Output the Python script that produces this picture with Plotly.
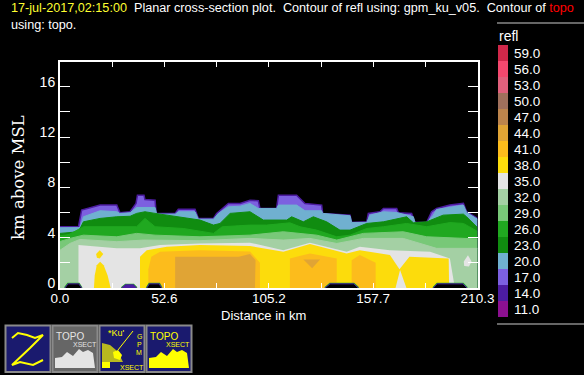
import plotly.graph_objects as go

W, H = 584, 375
levels = ["59.0","56.0","53.0","50.0","47.0","44.0","41.0","38.0","35.0","32.0","29.0","26.0","23.0","20.0","17.0","14.0","11.0"]
colors = ["#d0284a","#f4486e","#e0607c","#a0705c","#bc844c","#e0a435","#fcbc1c","#fcdc0c","#e4e4e4","#a4d0a4","#78c878","#20a820","#108c10","#70b0d0","#7c60e0","#4c1ca0","#8c1090"]
col = dict(zip(levels, colors))

x_ticks = [0, 26.3, 52.6, 78.9, 105.2, 131.5, 157.7, 184.0, 210.3]
x_labels = ["0.0", "", "52.6", "", "105.2", "", "157.7", "", "210.3"]
y_ticks = [0, 2, 4, 6, 8, 10, 12, 14, 16]
y_labels = ["0", "", "4", "", "8", "", "12", "", "16"]

x17 = [0,9.3,10.9,20.2,28.6,30.2,35.3,38.3,39,42.3,42.8,47.9,48.4,58,59.6,68,69.7,77.3,78.9,84.8,90.7,95.7,99.9,100.7,109.1,110,119.2,123.4,131.8,132.3,146.1,146.9,154.5,155.3,161.2,162.9,169.6,170.4,177.1,178.8,184.7,187.2,189.7,196.4,203.2,204.8,210.3]
h17 = [4.87,4.87,6.19,6.59,6.59,5.98,6.06,6.72,7.38,7.38,7.03,6.98,5.93,5.93,6.25,6.25,5.53,5.53,5.93,6.72,6.72,6.98,6.93,6.32,6.32,7.38,7.38,6.72,6.59,5.93,5.79,5.21,5.26,5.93,6.06,6.32,6.32,5.98,5.93,5.21,5.21,6.06,6.32,6.59,6.72,6.06,5.53]
x20 = [0,10.1,11.8,20.2,28.6,30.2,35.3,38.6,47.9,48.7,58,59.6,68,69.7,77.3,79.8,84.8,90.7,95.7,99.9,109.1,110,119.2,123.4,131.8,132.3,146.1,146.9,154.5,156.1,162.9,169.6,178,178.8,184.7,188,189.7,203.2,204.8,210.3]
h20 = [4.79,4.8,5.66,6.14,6.06,5.93,5.98,6.4,6.4,5.87,5.87,6.06,6.06,5.47,5.47,5.93,6.45,6.5,6.72,6.32,6.32,6.59,6.59,6.14,6.14,5.93,5.74,5.21,5.21,5.79,6.06,6.0,5.66,5.21,5.21,5.79,6.24,6.59,6.0,5.47]
x23 = [0,9.3,11.8,20.2,28.6,35.3,38.6,42.8,47.9,53.8,62.1,70.5,77.3,80.6,85.7,95.7,102.4,114.2,116.7,122.6,127.6,134.3,141,146.1,154.5,162.9,174.6,178,184.7,193,203.2,204.8,210.3]
h23 = [4.34,4.47,5.26,5.53,5.66,5.7,5.93,6.06,5.93,5.79,5.58,5.4,5.0,5.13,5.93,6.06,5.4,5.4,5.66,5.26,5.66,5.26,4.6,4.6,5.13,5.26,5.66,5.18,5.26,5.79,5.87,5.66,4.8]
x26 = [0,4.5,11.8,28.6,38.6,42.8,47.9,62.1,77.3,81.7,95.7,104.1,115.8,120.9,129.3,139.4,146.1,154.5,162.9,174.6,184.7,196.4,203.2,210.3]
h26 = [4.15,4.25,4.87,4.87,4.87,5.53,4.87,4.73,4.34,4.87,5.0,5.0,5.18,4.87,4.6,4.07,4.2,4.73,4.87,5.13,4.87,5.2,5.13,4.5]
x29 = [0,5,11.8,28.6,38.6,47.9,70.5,95.7,112.5,129.3,139.4,152.8,172.9,184.7,210.3]
h29 = [3.7,3.94,4.2,4.07,4.34,4.2,4.07,4.2,4.47,4.2,3.81,4.34,4.47,4.07,3.9]
x32 = [0,5,10,28.6,42,70.5,95.7,112.5,125.9,139.4,152.8,172.9,189.7,210.3]
h32 = [3.0,3.54,3.86,3.68,3.81,3.76,3.94,3.81,3.94,3.54,3.94,3.94,3.15,3.15]

x35 = [9.3,9.3,28.6,40.3,50.4,70.5,95.7,112.5,125.9,144.4,151,166.2,186.4,196.4,198.9]
h35 = [0,3.41,3.15,3.15,3.41,3.54,3.6,3.0,3.6,2.88,3.28,3.0,2.88,2.35,0]
x35b = [203.4,205.5,207.3,206,203.6]
h35b = [2.1,2.6,2.1,1.7,1.75]
x38 = [40.3,40.3,43.7,53.8,70.5,95.7,112.5,125.9,144.4,151,166.2,171,176,195.8,196,174.5,171.3,169]
h38 = [0,2.49,3.0,3.28,3.41,3.33,2.88,3.49,2.75,3.0,2.62,1.5,2.49,2.35,0,0,1.43,0]
x38a = [18.2,20,21.8,20,18.6]
h38a = [2.7,3.0,2.7,2.35,2.4]
x38b = [17.1,17.5,18.5,20.2,22,24,25.5]
h38b = [0,1.0,1.8,2.09,1.8,1.0,0]
x41a = [44.5,44.5,46,50.4,70.5,95.7,100.7,100.7]
h41a = [0,1.5,2.49,2.88,3.0,2.9,2.0,0]
x41b = [115.8,115.8,125.9,139.4,139.4]
h41b = [0,2.35,2.75,2.35,0]
x41c = [146.9,146.9,151,159,159]
h41c = [0,2.2,2.62,2.0,0]
x44a = [58,58,90,95.7,98.5,98.2]
h44a = [0,2.49,2.49,2.7,2.2,0]
x44b = [122.6,131,127]
h44b = [2.27,2.27,1.56]

holes_x = [[2.5,4,9.5,10.9],[31,33,37,38.6],[43.7,45,50,51.2],[133.5,136,148,150.3],[188,190,203,205]]
holes_h = [[0,.33,.33,0],[0,.25,.25,0],[0,.33,.33,0],[0,.33,.33,0],[0,.33,.33,0]]
hole_fill = ["#000000","#4c1ca0","#000000","#000000","#000000"]

fig = go.Figure()
def top(x, h, c, line=None, lw=0):
    fig.add_trace(go.Scatter(x=x, y=h, mode="lines", fill="tozeroy", fillcolor=c,
                             line=dict(color=line or c, width=lw or 1), hoverinfo="skip", showlegend=False))
def poly(x, h, c, line=None, lw=0):
    fig.add_trace(go.Scatter(x=x, y=h, mode="lines", fill="toself", fillcolor=c,
                             line=dict(color=line or c, width=lw), hoverinfo="skip", showlegend=False))

top(x17, h17, col["17.0"], col["14.0"], 1.5)
top(x20, h20, col["20.0"])
top(x23, h23, col["23.0"])
top(x26, h26, col["26.0"])
top(x29, h29, col["29.0"])
top(x32, h32, col["32.0"])
poly(x35, h35, col["35.0"])
poly(x35b, h35b, col["35.0"])
poly(x38, h38, col["38.0"])
poly(x38a, h38a, col["38.0"])
poly(x38b, h38b, col["38.0"])
for a, b in [(x41a, h41a), (x41b, h41b), (x41c, h41c)]:
    poly(a, b, col["41.0"])
poly(x44a, h44a, col["44.0"])
poly(x44b, h44b, col["44.0"])
for a, b, f in zip(holes_x, holes_h, hole_fill):
    poly(a, b, "rgba(0,0,0,0)", col["26.0"], 2.2)
    poly(a, b, f, col["14.0"], 1)

fig.add_trace(go.Bar(x=[1]*len(levels), y=levels, orientation="h", marker=dict(color=colors, line=dict(width=0)),
                     xaxis="x2", yaxis="y2", hoverinfo="skip", showlegend=False))

FONT = "Liberation Sans"
def px(x): return x / W
def py(y): return 1 - y / H

shapes, ann = [], []
def text(x, y, s, size=13, color="white", anchor="left", family=FONT, angle=0, **kw):
    ann.append(dict(x=px(x), y=py(y), xref="paper", yref="paper", text=s, showarrow=False, xanchor=anchor,
                    yanchor="middle", textangle=angle, font=dict(family=family, size=size, color=color),
                    borderpad=0, **kw))
def path(pts, fill="rgba(0,0,0,0)", line="rgba(0,0,0,0)", lw=0, close=True):
    d = "M" + " L".join(f"{px(a):.5f},{py(b):.5f}" for a, b in pts) + (" Z" if close else "")
    shapes.append(dict(type="path", xref="paper", yref="paper", path=d, fillcolor=fill, line=dict(color=line, width=lw)))
def rect(x0, y0, x1, y1, fill, line="rgba(0,0,0,0)", lw=0):
    shapes.append(dict(type="rect", xref="paper", yref="paper", x0=px(x0), x1=px(x1), y0=py(y0), y1=py(y1),
                       fillcolor=fill, line=dict(color=line, width=lw)))

sp = "\u00a0"
text(10, 8.5, f"<span style='color:#ffff30'>17-jul-2017,02:15:00</span>{sp}{sp}Planar cross-section plot.{sp}{sp}Contour of refl using: gpm_ku_v05.{sp}{sp}Contour of <span style='color:#ff0000'>topo</span>", size=12.65)
text(10, 24.5, "using: topo.", size=12.65)
text(18, 178, "km above MSL", size=16.5, family="DejaVu Serif", angle=-90, anchor="center")
text(263, 315, "Distance in km", size=13, anchor="center")
text(498, 36, "refl", size=14)

rect(497, 23, 584, 23.01, "#888888", "#888888", 1)
rect(497, 324, 584, 324.01, "#888888", "#888888", 1)

navy = "#1a1a6e"
yel = "#ffff00"
for x0, f in [(5, navy), (52, "#666666"), (99, navy), (146, navy)]:
    rect(x0 + .5, 325.5, x0 + 45.5, 372, f, "#8a8a8a", 2)
path([(12,338),(18,333),(27,335),(35,338),(43,335),(30,348),(12,365),(20,362),(33,365),(43,360)], line=yel, lw=2, close=False)
def mountain(dx, c):
    path([(dx,368),(dx,358),(dx+7,357),(dx+12,352),(dx+18,356),(dx+24,349),(dx+28,352),(dx+33,350),(dx+38,353),(dx+40,368)], fill=c)
mountain(55, "#e4e4e4")
mountain(149, yel)
for x0, c in [(52, "#e4e4e4"), (146, yel)]:
    text(x0 + 18, 336, "TOPO", size=10, color=c, anchor="center")
    text(x0 + 32.5, 344, "XSECT", size=7, color=c, anchor="center")
text(107, 333, "*Ku'", size=9, color=yel)
for i, ch in enumerate("GPM"):
    text(139, 336 + i * 8, ch, size=7, color=yel, anchor="center")
text(132, 367, "XSECT", size=7, color=yel, anchor="center")
path([(102,368),(102,343),(110,345),(116,350),(121,358),(123,362),(102,362)], fill="#b8b820")
path([(113,352),(118,350),(122,355),(120,360),(114,358)], fill=yel)
path([(102,368),(102,362),(110,362),(110,368)], fill=yel)
path([(118,350),(133,331)], line=yel, lw=1, close=False)

fig.update_layout(
    template="none",
    width=W, height=H, autosize=False, margin=dict(l=0, r=0, t=0, b=0, autoexpand=False),
    paper_bgcolor="black", plot_bgcolor="black", bargap=0, shapes=shapes, annotations=ann,
    font=dict(family=FONT, color="white"),
    xaxis=dict(domain=[60/W, 477.5/W], range=[0, 210.3], tickvals=x_ticks, ticktext=x_labels, ticks="inside",
               ticklen=5, tickwidth=1, tickcolor="white", showline=True, linecolor="white", linewidth=2,
               mirror="ticks", showgrid=False, zeroline=False, tickfont=dict(size=13.5, color="white"), anchor="y",
               automargin=False, ticklabelstandoff=-3),
    yaxis=dict(domain=[1-288/H, 1-61.5/H], range=[0, 18], tickvals=y_ticks, ticktext=y_labels, ticks="inside",
               ticklen=10, tickwidth=1, tickcolor="white", showline=True, linecolor="white", linewidth=2,
               mirror="ticks", showgrid=False, zeroline=False, tickfont=dict(size=14, color="white"), anchor="x",
               automargin=False, ticklabelshift=-5),
    xaxis2=dict(domain=[498/W, 508/W], range=[0, 1], visible=False, anchor="y2", automargin=False),
    yaxis2=dict(domain=[1-317/H, 1-45/H], type="category", categoryorder="array", categoryarray=levels[::-1],
                tickmode="array", tickvals=levels, ticktext=levels,
                side="right", anchor="x2", showgrid=False, zeroline=False, showline=False, ticks="",
                tickfont=dict(size=13.5, color="white"), ticklabelstandoff=5, automargin=False),
)
post = """
var s=document.createElement('style');
s.textContent='html,body{margin:0!important;padding:0!important;background:#000;overflow:hidden}';
document.head.appendChild(s);
"""
fig.write_html("out.html", config=dict(displayModeBar=False), post_script=post)
